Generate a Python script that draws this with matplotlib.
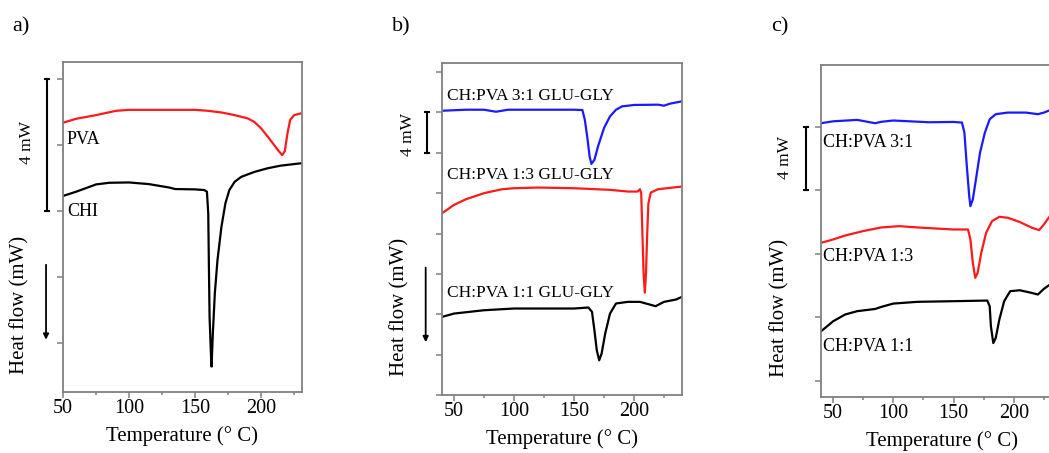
import matplotlib
matplotlib.use("Agg")
import matplotlib.pyplot as plt
import matplotlib.transforms as mtransforms
from matplotlib.ticker import MultipleLocator

plt.rcParams['font.family'] = ['Liberation Serif', 'DejaVu Serif']

# ---- panel a: pure polymers (heat flow in mW, shifted)
a_pva_T = [50, 60, 75, 90, 100, 120, 150, 160, 170, 180, 190, 195, 200, 205, 210, 213, 216, 218, 220, 222, 225, 230]
a_pva_y = [6.66, 6.78, 6.89, 7.02, 7.05, 7.05, 7.05, 7.02, 6.97, 6.89, 6.79, 6.68, 6.49, 6.24, 5.98, 5.82, 5.68, 5.80, 6.34, 6.74, 6.89, 6.94]
a_chi_T = [50, 60, 75, 85, 100, 115, 130, 135, 150, 157, 159, 160, 160.5, 161, 162, 162.5, 163.5, 165, 167, 170, 173, 176, 180, 185, 195, 205, 215, 230]
a_chi_y = [4.44, 4.57, 4.79, 4.84, 4.85, 4.80, 4.70, 4.65, 4.64, 4.62, 4.57, 3.91, 2.30, 0.78, -0.32, -0.73, 0.29, 1.50, 2.50, 3.51, 4.22, 4.62, 4.87, 5.02, 5.17, 5.28, 5.36, 5.43]

# ---- panel b: blends with GLU-GLY
b_31_T = [40, 60, 75, 80, 85, 90, 95, 150, 157, 159, 161, 163, 164.5, 167, 170, 175, 180, 185, 190, 200, 220, 225, 230, 240]
b_31_y = [24.17, 24.27, 24.27, 24.17, 24.07, 24.17, 24.27, 24.27, 24.24, 23.28, 21.62, 19.64, 18.90, 19.30, 20.63, 22.45, 23.61, 24.27, 24.60, 24.74, 24.77, 24.67, 24.87, 25.10]
b_13_T = [40, 50, 60, 75, 90, 100, 120, 150, 180, 195, 203, 205, 206, 207, 208, 209, 210, 211, 212, 214, 220, 240]
b_13_y = [14.01, 14.84, 15.40, 16.00, 16.39, 16.49, 16.56, 16.49, 16.33, 16.16, 16.16, 16.39, 16.00, 12.02, 8.05, 6.13, 8.05, 12.02, 15.00, 16.06, 16.39, 16.66]
b_11_T = [40, 50, 75, 100, 150, 162, 165, 167, 169, 171, 173, 176, 180, 185, 195, 205, 212, 218, 225, 235, 240]
b_11_y = [3.74, 4.07, 4.40, 4.57, 4.57, 4.67, 4.24, 2.42, 0.43, -0.56, 0.10, 2.09, 4.07, 5.07, 5.23, 5.23, 5.00, 4.80, 5.23, 5.46, 5.73]

# ---- panel c: blends
c_31_T = [40, 50, 70, 80, 85, 90, 100, 130, 150, 157, 159, 161, 163, 164, 166, 169, 172, 176, 180, 185, 195, 210, 220, 225, 230]
c_31_y = [16.23, 16.35, 16.44, 16.30, 16.23, 16.32, 16.40, 16.29, 16.31, 16.27, 15.64, 13.53, 11.64, 11.00, 11.43, 12.90, 14.38, 15.64, 16.48, 16.80, 16.90, 16.90, 16.80, 16.90, 17.05]
c_13_T = [40, 50, 60, 75, 90, 105, 120, 150, 162, 164, 166, 168, 170, 173, 177, 182, 188, 195, 205, 215, 221, 225, 230]
c_13_y = [8.69, 8.90, 9.15, 9.43, 9.66, 9.74, 9.66, 9.53, 9.53, 8.90, 7.43, 6.48, 6.80, 8.06, 9.32, 10.06, 10.33, 10.27, 10.00, 9.64, 9.49, 9.85, 10.38]
c_11_T = [40, 50, 60, 70, 85, 90, 100, 120, 150, 178, 180, 181, 183, 185, 188, 192, 197, 205, 215, 220, 225, 230]
c_11_y = [3.11, 3.74, 4.17, 4.38, 4.52, 4.65, 4.86, 4.97, 5.01, 5.05, 4.69, 3.43, 2.37, 2.69, 3.85, 5.01, 5.64, 5.70, 5.53, 5.43, 5.79, 6.06]

W, H = 1049, 453
fig = plt.figure(figsize=(W / 100, H / 100), dpi=100)


def make_axes(left, right, top, bottom):
    return fig.add_axes([left / W, (H - bottom) / H, (right - left) / W, (bottom - top) / H])


def style(ax, xlim, ylim, ystep, xticks):
    ax.set_xlim(*xlim)
    ax.set_ylim(*ylim)
    ax.set_xticks(xticks)
    ax.xaxis.set_minor_locator(MultipleLocator(25))
    ax.yaxis.set_major_locator(MultipleLocator(ystep))
    ax.set_yticklabels([])
    for s in ax.spines.values():
        s.set_color('#808080')
        s.set_linewidth(1.3)
    ax.tick_params(which='major', direction='out', length=4, width=1.1, color='#808080', labelsize=14.5, pad=1)
    ax.tick_params(which='minor', direction='out', length=2, width=1.1, color='#808080')
    ax.tick_params(axis='y', which='minor', left=False)
    ax.set_xlabel('Temperature (° C)', fontsize=15, labelpad=6)


def side_marks(ax, bar_x, bar_lo, bar_hi, mw_x, mw_y, hf_x, hf_y, arrow=None):
    tr = mtransforms.blended_transform_factory(ax.transAxes, ax.transData)
    ax.plot([bar_x, bar_x], [bar_lo, bar_hi], color='black', lw=1.5, transform=tr, clip_on=False)
    ax.plot([bar_x, bar_x], [bar_lo, bar_hi], ls='none', marker='_', ms=5, mew=1.5,
            color='black', transform=tr, clip_on=False)
    ax.text(mw_x, mw_y, '4 mW', rotation=90, ha='center', va='center', fontsize=12.5, transform=tr)
    ax.text(hf_x, hf_y, 'Heat flow (mW)', rotation=90, ha='center', va='center', fontsize=15,
            transform=ax.transAxes)
    if arrow is not None:
        x, y0, y1 = arrow
        ax.annotate('', xy=(x, y1), xytext=(x, y0), xycoords=tr, textcoords=tr,
                    arrowprops=dict(arrowstyle='-|>', color='black', lw=1.3, mutation_scale=8))


# panel a
ax1 = make_axes(63, 302, 62, 392)
ax1.plot(a_pva_T, a_pva_y, color='#ff1a1a', lw=1.6)
ax1.plot(a_chi_T, a_chi_y, color='black', lw=1.6)
style(ax1, (50, 231), (-1.5, 8.5), 2, [50, 100, 150, 200])
ax1.text(53, 6.14, 'PVA', fontsize=13, va='center')
ax1.text(53, 3.98, 'CHI', fontsize=13, va='center')
side_marks(ax1, -0.067, 4, 8, -0.15, 6.05, -0.18, 0.264, arrow=(-0.071, 2.44, 0.0))

# panel b
ax2 = make_axes(442, 682, 63, 395)
ax2.plot(b_31_T, b_31_y, color='#1a1aff', lw=1.6)
ax2.plot(b_13_T, b_13_y, color='#ff1a1a', lw=1.6)
ax2.plot(b_11_T, b_11_y, color='black', lw=1.6)
style(ax2, (40, 240), (-4, 28.9), 4, [50, 100, 150, 200])
ax2.text(44, 25.6, 'CH:PVA 3:1 GLU-GLY', fontsize=12.5, va='center')
ax2.text(44, 17.8, 'CH:PVA 1:3 GLU-GLY', fontsize=12.5, va='center')
ax2.text(44, 6.1, 'CH:PVA 1:1 GLU-GLY', fontsize=12.5, va='center')
side_marks(ax2, -0.0625, 20, 24, -0.142, 21.8, -0.175, 0.265, arrow=(-0.068, 8.9, 0.96))

# panel c (cut at the right edge of the figure)
ax3 = make_axes(821, 1062, 65, 397)
ax3.plot(c_31_T, c_31_y, color='#1a1aff', lw=1.6)
ax3.plot(c_13_T, c_13_y, color='#ff1a1a', lw=1.6)
ax3.plot(c_11_T, c_11_y, color='black', lw=1.6)
style(ax3, (40, 240), (-1.03, 19.9), 4, [50, 100, 150, 200])
ax3.text(42, 15.0, 'CH:PVA 3:1', fontsize=13, va='center')
ax3.text(42, 7.84, 'CH:PVA 1:3', fontsize=13, va='center')
ax3.text(42, 2.15, 'CH:PVA 1:1', fontsize=13, va='center')
side_marks(ax3, -0.062, 12, 16, -0.15, 14.1, -0.17, 0.268)

for lab, px in [('a)', 12), ('b)', 392), ('c)', 771)]:
    fig.text(px / W, 1 - 27 / H, lab, fontsize=16, va='center', ha='left')

fig.savefig('out.png', dpi=100)
